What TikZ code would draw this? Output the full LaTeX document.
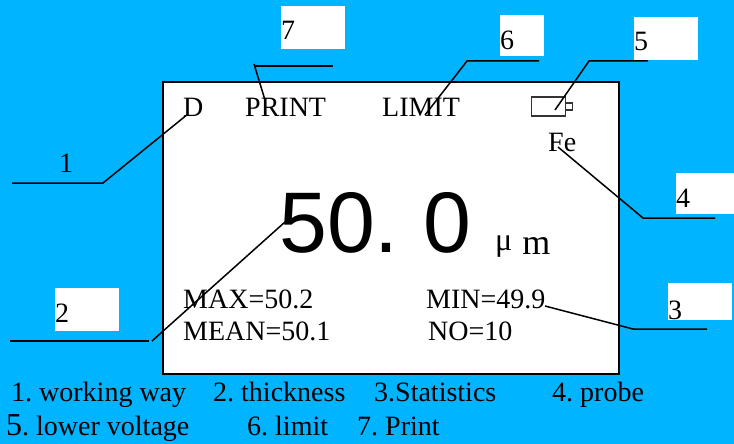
\documentclass[tikz,border=0pt]{standalone}
\usepackage{fontspec}
\setmainfont{Liberation Serif}
\newfontfamily\ReadoutFont{Liberation Sans}
\usepackage{xcolor}
\definecolor{PanelBlue}{HTML}{00B4FF}
\definecolor{BatteryGray}{HTML}{333333}
\begin{document}
\begin{tikzpicture}[
x=1pt,y=-1pt,
txt/.style={anchor=base west,inner sep=0pt,text=black,font=\frenchspacing\fontsize{28}{28}\selectfont},
tag/.style={fill=white,inner sep=0pt,anchor=north west},
leader/.style={draw=black,line width=1.5pt,line join=miter},
readout/.style={anchor=base west,inner sep=0pt,font=\ReadoutFont\fontsize{86}{86}\selectfont}
]
\useasboundingbox[fill=PanelBlue] (0,0) rectangle (734,444);
% Screen
\node[draw=black,line width=2pt,fill=white,inner sep=0pt,outer sep=0pt,anchor=north west,minimum width=456pt,minimum height=292pt] (screen) at (162.5,82) {};
\node[txt] (D) at (183,117) {D};
\node[txt] (print) at (245,117) {PRINT};
\node[txt] (limit) at (382,117) {LIMIT};
\node[txt] (fe) at (548,151) {Fe};
\node[readout] (value) at (279,252) {50.\hspace{25pt}0};
\node[txt] (unit) at (495,254) {\raisebox{4pt}{\fontsize{32}{32}\selectfont μ}\hspace{10pt}{\fontsize{36}{36}\selectfont m}};
\node[txt] (max) at (183,308) {MAX=50.2};
\node[txt] (mean) at (183,340) {MEAN=50.1};
\node[txt] (min) at (426,308) {MIN=49.9};
\node[txt] (no) at (428,340) {NO=10};
% Battery
\node[draw=BatteryGray,line width=1.8pt,inner sep=0pt,outer sep=0pt,anchor=north west,minimum width=34pt,minimum height=19pt] (battery) at (531.5,97) {};
\node[draw=BatteryGray,line width=1.8pt,inner sep=0pt,outer sep=0pt,anchor=west,minimum width=7pt,minimum height=7pt] (batterytip) at (battery.east) {};
% Number tags
\node[tag,minimum width=64pt,minimum height=43pt] (tag7) at (281,6) {};
\node[tag,minimum width=44pt,minimum height=41pt] (tag6) at (500,15) {};
\node[tag,minimum width=64pt,minimum height=43pt] (tag5) at (634,17) {};
\node[tag,minimum width=58pt,minimum height=41pt] (tag4) at (676,173) {};
\node[tag,minimum width=64pt,minimum height=37pt] (tag3) at (668,283) {};
\node[tag,minimum width=64pt,minimum height=43pt] (tag2) at (55,288) {};
\node[txt] (num1) at (59,172) {1};
\node[txt] (num2) at (55,322) {2};
\node[txt] (num3) at (668,319) {3};
\node[txt] (num4) at (676,207) {4};
\node[txt] (num5) at (634,51) {5};
\node[txt] (num6) at (500,50) {6};
\node[txt] (num7) at (281,40) {7};
% Leaders
\coordinate (a1) at (12,183);
\coordinate (b1) at (103,183);
\coordinate (c1) at (188,114);
\coordinate (a2) at (10,341);
\coordinate (b2) at (149,341);
\coordinate (d2) at (152,341);
\coordinate (c2) at (285,222);
\coordinate (a3) at (707,329);
\coordinate (b3) at (633,329);
\coordinate (c3) at (545,306);
\coordinate (a4) at (715,218);
\coordinate (b4) at (643,218);
\coordinate (c4) at (558,147);
\coordinate (a5) at (648,61);
\coordinate (b5) at (589,61);
\coordinate (c5) at (555,110);
\coordinate (a6) at (539,61);
\coordinate (b6) at (467,61);
\coordinate (c6) at (425,115);
\coordinate (a7) at (333,66);
\coordinate (b7) at (254,66);
\coordinate (d7) at (254,64);
\coordinate (c7) at (265,100);
\draw[leader] (a1) -- (b1) -- (c1);
\draw[leader] (a2) -- (b2);
\draw[leader] (d2) -- (c2);
\draw[leader] (a3) -- (b3) -- (c3);
\draw[leader] (a4) -- (b4) -- (c4);
\draw[leader] (a5) -- (b5) -- (c5);
\draw[leader] (a6) -- (b6) -- (c6);
\draw[leader] (a7) -- (b7);
\draw[leader] (d7) -- (c7);
% Legend
\node[txt] (leg1) at (11,401) {1. working way};
\node[txt] (leg2) at (213,401) {2. thickness};
\node[txt] (leg3) at (374,401) {3.Statistics};
\node[txt] (leg4) at (552,401) {4. probe};
\node[txt] (leg5) at (6,435) {{\fontsize{32}{32}\selectfont 5}. lower voltage};
\node[txt] (leg6) at (247,435) {6. limit};
\node[txt] (leg7) at (357,435) {7. Print};
\end{tikzpicture}
\end{document}
